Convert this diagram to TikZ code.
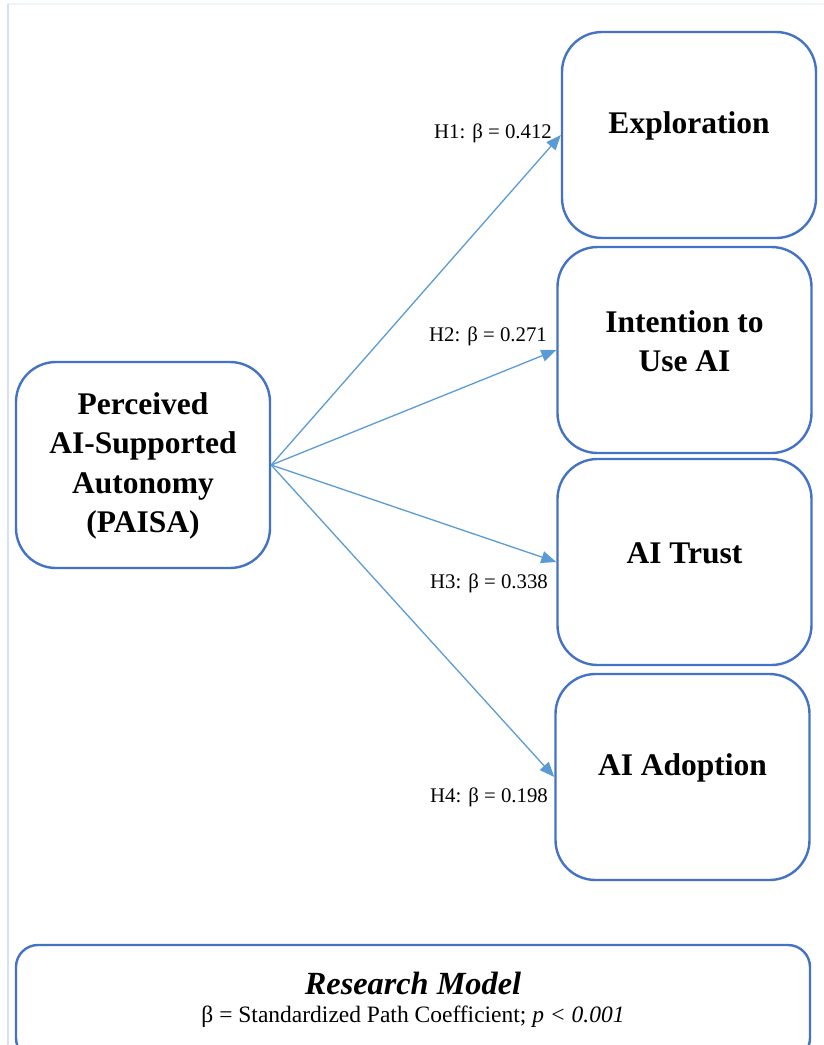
\documentclass[tikz,border=0pt]{standalone}
\usepackage{fontspec}
\setmainfont{Liberation Serif}
\usetikzlibrary{arrows.meta,positioning}
\definecolor{boxblue}{HTML}{4472C4}
\definecolor{arrowblue}{HTML}{5B9BD5}
\definecolor{frameblue}{HTML}{D5E2F2}

\tikzset{
	construct/.style={draw=boxblue, line width=2.4pt, rounded corners=40pt, minimum width=254pt, minimum height=206pt, inner sep=0pt},
	boxtext/.style={font=\fontsize{31.5}{39.5}\selectfont\bfseries, align=center, yshift=9pt},
	hypo/.style={->, draw=arrowblue, line width=1.3pt},
	beta/.style={font=\fontsize{20.8}{24}\selectfont, anchor=east, inner sep=0pt}
}

\begin{document}
\begin{tikzpicture}[x=1pt, y=-1pt, >={Triangle[length=15pt, width=12pt]}]
	\useasboundingbox (0,0) rectangle (824,1045);
	\draw[frameblue!40, line width=1.5pt] (7,4) -- (824,4);
	\draw[frameblue, line width=1.5pt] (8,4) -- (8,1045);
	% constructs
	\node[construct, label={[boxtext, yshift=-10pt]center:Perceived\\AI-Supported\\Autonomy\\(PAISA)}] (paisa) at (143,465) {};
	\node[construct, label={[boxtext]center:Exploration}] (explore) at (689,135) {};
	\node[construct, label={[boxtext]center:Intention to\\Use AI}] (intent) at (684.5,350) {};
	\node[construct, label={[boxtext]center:AI Trust}] (trust) at (684.5,562) {};
	\node[construct, label={[boxtext]center:AI Adoption}] (adopt) at (682.5,777) {};
	% paths
	\draw[hypo] (paisa.east) -- (explore.west);
	\draw[hypo] (paisa.east) -- (intent.west);
	\draw[hypo] (paisa.east) -- (trust.west);
	\draw[hypo] (paisa.east) -- (adopt.west);
	\node[beta] (h1) at (552,133) {H1: β = 0.412};
	\node[beta] (h2) at (547,336) {H2: β = 0.271};
	\node[beta] (h3) at (548,583) {H3: β = 0.338};
	\node[beta] (h4) at (548,797) {H4: β = 0.198};
	% legend
	\node[draw=boxblue, line width=2.4pt, rounded corners=22pt, minimum width=794pt, minimum height=115pt] (legend) at (413,1002.5) {};
	\node[font=\fontsize{32.3}{36}\selectfont\bfseries\itshape] (title) at (413,983) {Research Model};
	\node[font=\fontsize{23.5}{27}\selectfont] (note) at (413,1017) {β = Standardized Path Coefficient; \textit{p < 0.001}};
\end{tikzpicture}
\end{document}
